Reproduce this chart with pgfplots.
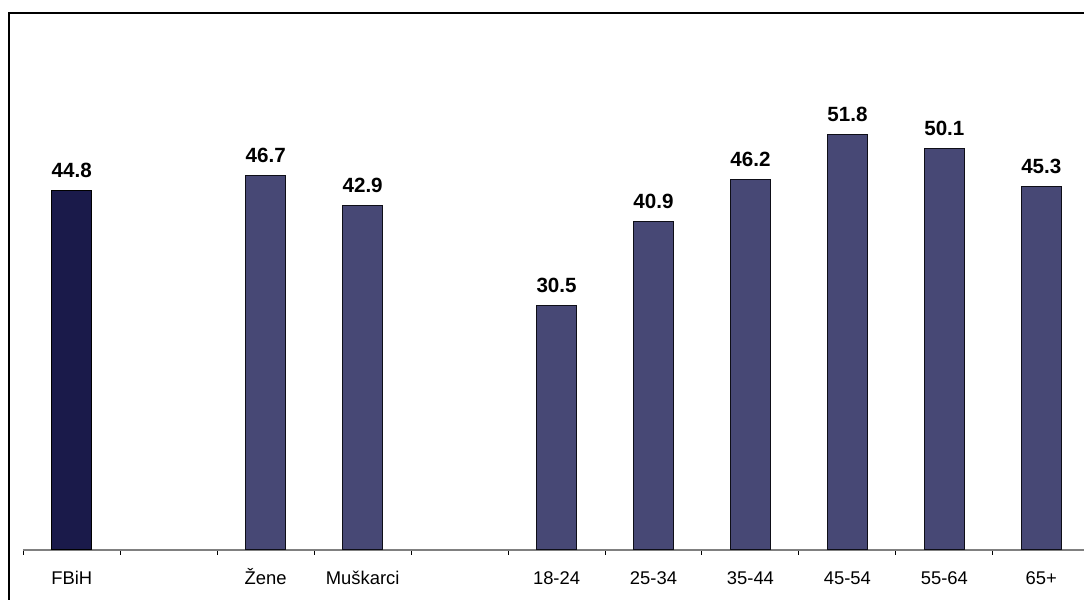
\documentclass[border=0pt]{standalone}
\usepackage{pgfplots}
\pgfplotsset{compat=1.18}
\usepackage{fontspec}
\setmainfont{Liberation Sans}
\definecolor{barA}{RGB}{26,26,74}
\definecolor{barB}{RGB}{71,72,117}
\begin{document}
\begin{tikzpicture}[x=1pt,y=1pt]
\useasboundingbox (0,0) rectangle (542,300);
\clip (0,0) rectangle (542,300);
\draw[line width=1pt, black] (4.5,-20) rectangle (600,293.5);
\begin{axis}[
  at={(11.65pt,25pt)}, anchor=south west,
  scale only axis, width=533.25pt, height=240.6pt,
  xmin=-0.5, xmax=10.5, ymin=0, ymax=60,
  enlargelimits=false,
  axis x line=bottom, axis y line=none,
  axis line style={-, draw=gray, line width=0.6pt},
  xtick={0,...,10},
  xticklabels={FBiH,{},Žene,Muškarci,{},18-24,25-34,35-44,45-54,55-64,65+},
  minor xtick={-0.5,0.5,...,9.5},
  major tick length=0pt, minor tick length=2.5pt,
  tick align=outside,
  minor tick style={black, line width=0.5pt},
  xticklabel style={font=\fontsize{9.2}{11}\selectfont, anchor=base, yshift=-17.5pt},
  ytick=\empty,
  ybar, bar width=20pt,
  nodes near coords,
  /pgf/number format/.cd, fixed, fixed zerofill, precision=1, assume math mode=true, /pgfplots/.cd,
  every node near coord/.append style={font=\fontsize{10.3}{12}\selectfont\bfseries, anchor=base, yshift=6.5pt, inner sep=0pt},
  clip=false,
]
\addplot[bar shift=0pt, fill=barA, draw=black, line width=0.5pt] coordinates {(0,44.8)};
\addplot[bar shift=0pt, fill=barB, draw=black!80!barB, line width=0.5pt] coordinates {(2,46.7) (3,42.9) (5,30.5) (6,40.9) (7,46.2) (8,51.8) (9,50.1) (10,45.3)};
\end{axis}
\end{tikzpicture}
\end{document}
